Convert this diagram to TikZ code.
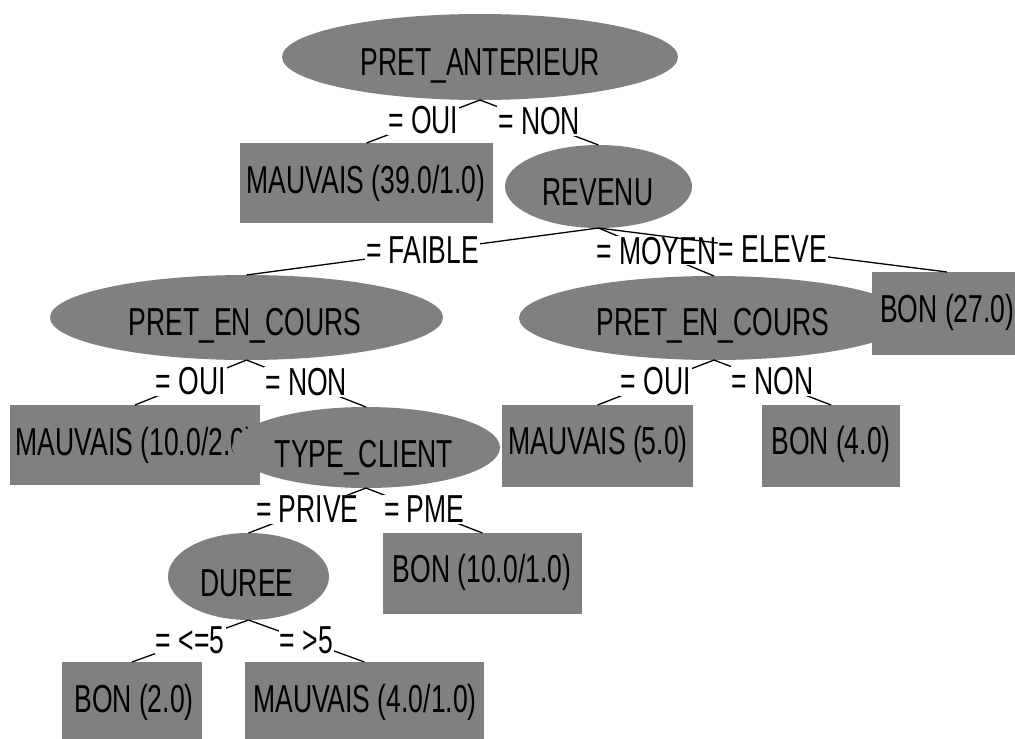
\documentclass[tikz,border=0pt]{standalone}
\usepackage{fontspec}
\setmainfont[FakeStretch=0.68]{Liberation Sans}
\usetikzlibrary{shapes.geometric}
\definecolor{nodegray}{RGB}{128,128,128}
\begin{document}
\begin{tikzpicture}[x=1pt,y=-1pt,
  font=\fontsize{39}{44}\selectfont,
  ell/.style={ellipse, fill=nodegray, inner sep=0pt, outer sep=0pt},
  leaf/.style={rectangle, fill=nodegray, inner sep=0pt, outer sep=0pt},
  txt/.style={anchor=base, inner sep=0pt, text=black},
  conn/.style={draw=black, line width=1.3pt},
  lbl/.style={midway, anchor=base, yshift=-12pt, fill=white, inner sep=1pt, text=black}]
\fill[white] (0,0) rectangle (1015,739);
\useasboundingbox (0,0) rectangle (1015,739);
\clip (0,0) rectangle (1015,739);

% nodes
\node[ell, minimum width=396pt, minimum height=86pt] (pa) at (480,57) {};
\node[txt] (pa-t) at (480,75) {PRET\_ANTERIEUR};
\node[leaf, minimum width=253pt, minimum height=80pt] (m39) at (366.5,183) {};
\node[txt] (m39-t) at (366,193) {MAUVAIS (39.0/1.0)};
\node[ell, minimum width=187pt, minimum height=83pt] (rev) at (598.5,186.5) {};
\node[txt] (rev-t) at (598,205) {REVENU};
\node[ell, minimum width=393pt, minimum height=85pt] (pecl) at (246.5,317.5) {};
\node[txt] (pecl-t) at (245,335) {PRET\_EN\_COURS};
\node[ell, minimum width=390pt, minimum height=84pt] (pecr) at (714,318) {};
\node[txt] (pecr-t) at (713,335) {PRET\_EN\_COURS};
\node[leaf, minimum width=150pt, minimum height=83pt] (bon27) at (947,313.5) {};
\node[txt, anchor=base west] (bon27-t) at (880,322) {BON (27.0)};
\node[leaf, minimum width=250pt, minimum height=80pt] (m10) at (135,445) {};
\node[txt] (m10-t) at (135,455) {MAUVAIS (10.0/2.0)};
\node[ell, minimum width=268pt, minimum height=81pt] (tc) at (366,447.5) {};
\node[txt] (tc-t) at (364,467) {TYPE\_CLIENT};
\node[leaf, minimum width=191pt, minimum height=82pt] (m5) at (597.5,446) {};
\node[txt] (m5-t) at (598,454) {MAUVAIS (5.0)};
\node[leaf, minimum width=138pt, minimum height=82pt] (bon4) at (831,446) {};
\node[txt] (bon4-t) at (831,454) {BON (4.0)};
\node[ell, minimum width=161pt, minimum height=87pt] (dur) at (248.5,576.5) {};
\node[txt] (dur-t) at (247,596) {DUREE};
\node[leaf, minimum width=199pt, minimum height=81pt] (bon10) at (482.5,573.5) {};
\node[txt] (bon10-t) at (482,582) {BON (10.0/1.0)};
\node[leaf, minimum width=140pt, minimum height=80pt] (bon2) at (132,702) {};
\node[txt] (bon2-t) at (134,712) {BON (2.0)};
\node[leaf, minimum width=239pt, minimum height=80pt] (m4) at (364.5,702) {};
\node[txt] (m4-t) at (365,712) {MAUVAIS (4.0/1.0)};

% edges with labels
\draw[conn] (pa.south) -- node[lbl] (e1) {= OUI} (m39.north);
\draw[conn] (pa.south) -- node[lbl] (e2) {= NON} (rev.north);
\draw[conn] (rev.south) -- node[lbl] (e3) {= FAIBLE} (pecl.north);
\draw[conn] (rev.south) -- node[lbl] (e4) {= MOYEN} (pecr.north);
\draw[conn] (rev.south) -- node[lbl] (e5) {= ELEVE} (bon27.north);
\draw[conn] (pecl.south) -- node[lbl] (e6) {= OUI} (m10.north);
\draw[conn] (pecl.south) -- node[lbl] (e7) {= NON} (tc.north);
\draw[conn] (pecr.south) -- node[lbl] (e8) {= OUI} (m5.north);
\draw[conn] (pecr.south) -- node[lbl] (e9) {= NON} (bon4.north);
\draw[conn] (tc.south) -- node[lbl] (e10) {= PRIVE} (dur.north);
\draw[conn] (tc.south) -- node[lbl] (e11) {= PME} (bon10.north);
\draw[conn] (dur.south) -- node[lbl] (e12) {= <=5} (bon2.north);
\draw[conn] (dur.south) -- node[lbl] (e13) {= >5} (m4.north);
\end{tikzpicture}
\end{document}
